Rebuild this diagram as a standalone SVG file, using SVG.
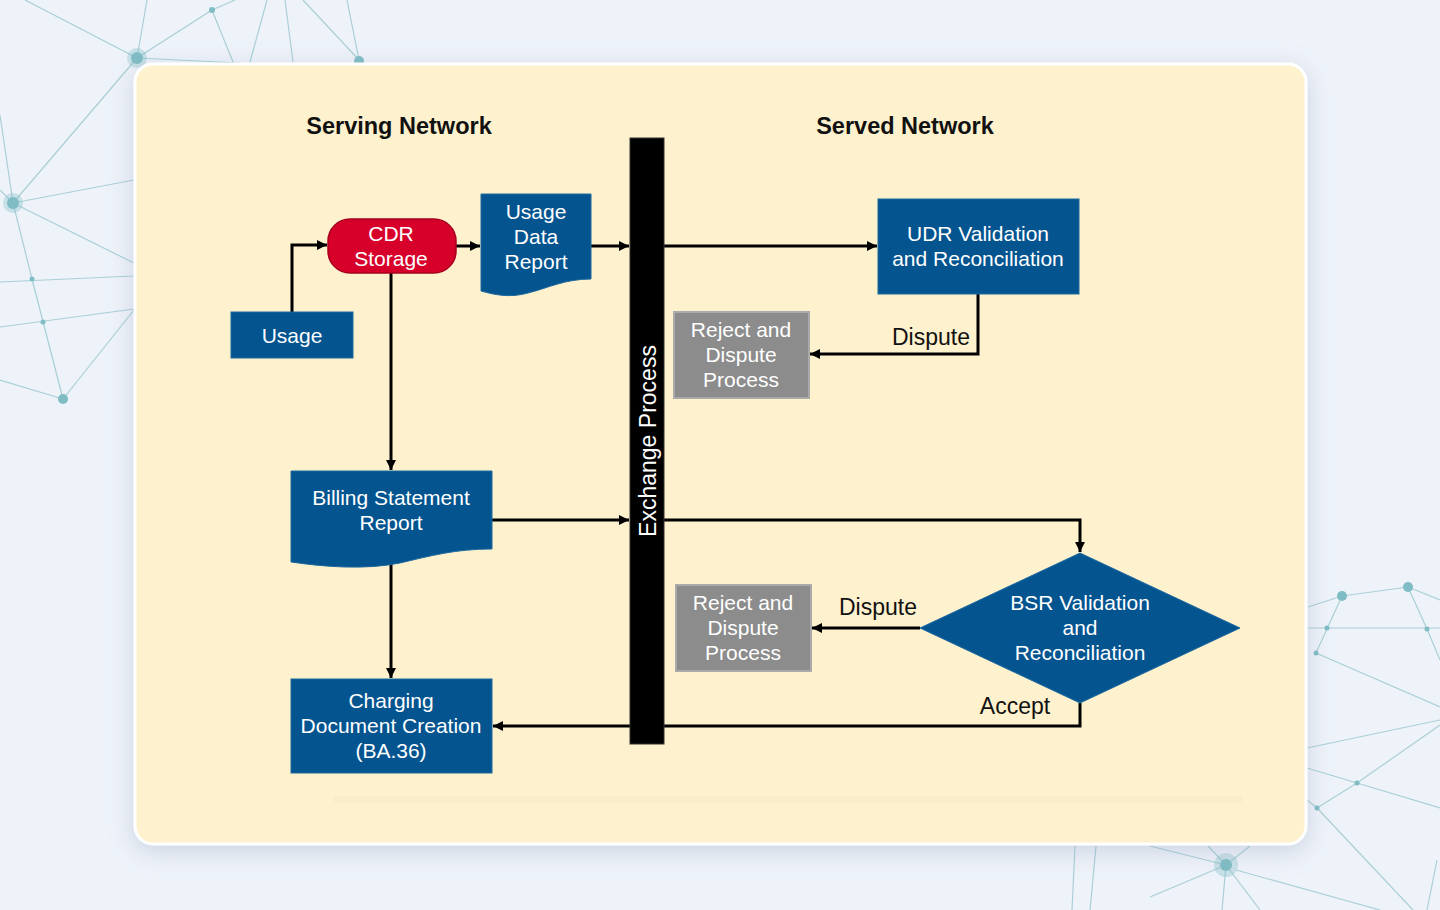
<svg xmlns="http://www.w3.org/2000/svg" width="1440" height="910" viewBox="0 0 1440 910">
<defs>
<marker id="arr" markerUnits="userSpaceOnUse" markerWidth="11" markerHeight="10" refX="10" refY="5" orient="auto"><path d="M0,0 L10,5 L0,10 z" fill="#000"/></marker>
<filter id="sh" x="-10%" y="-10%" width="120%" height="120%"><feDropShadow dx="0" dy="6" stdDeviation="12" flood-color="#8a9ab8" flood-opacity="0.35"/></filter>
<style>
.net line{stroke:#a9d0d6;stroke-width:1.2}
.net circle{fill:#7fbcc4}
.lbl{font-family:"Liberation Sans",Arial,sans-serif;font-size:21px;fill:#fff;text-anchor:middle}
.ttl{font-family:"Liberation Sans",Arial,sans-serif;font-size:23.5px;font-weight:bold;fill:#111;text-anchor:middle}
.cl{font-family:"Liberation Sans",Arial,sans-serif;font-size:23px;fill:#111;text-anchor:middle}
.blue{fill:#03548F;stroke:#1d6aa0;stroke-width:1}
.gray{fill:#8c8c8c;stroke:#aaaaaa;stroke-width:2}
.con{fill:none;stroke:#000;stroke-width:3;marker-end:url(#arr)}
</style>
</defs>
<rect width="1440" height="910" fill="#EEF2F9"/>
<g class="net">
<line x1="25" y1="0" x2="137" y2="58"/><line x1="147" y1="0" x2="137" y2="58"/><line x1="137" y1="58" x2="212" y2="10"/><line x1="137" y1="58" x2="240" y2="63"/>
<line x1="212" y1="10" x2="233" y2="62"/><line x1="212" y1="10" x2="235" y2="0"/><line x1="250" y1="62" x2="267" y2="0"/><line x1="293" y1="62" x2="285" y2="0"/>
<line x1="359" y1="60" x2="303" y2="0"/><line x1="347" y1="0" x2="359" y2="60"/>
<line x1="137" y1="58" x2="13" y2="203"/><line x1="13" y1="203" x2="134" y2="180"/><line x1="13" y1="203" x2="134" y2="263"/><line x1="13" y1="203" x2="0" y2="115"/>
<line x1="13" y1="203" x2="32" y2="279"/><line x1="32" y1="279" x2="63" y2="399"/><line x1="0" y1="282" x2="134" y2="276"/><line x1="0" y1="327" x2="134" y2="309"/>
<line x1="63" y1="399" x2="134" y2="310"/><line x1="0" y1="380" x2="63" y2="399"/><line x1="0" y1="190" x2="13" y2="203"/>
<line x1="1342" y1="596" x2="1408" y2="587"/><line x1="1408" y1="587" x2="1440" y2="600"/><line x1="1408" y1="587" x2="1427" y2="629"/><line x1="1427" y1="629" x2="1440" y2="660"/>
<line x1="1307" y1="628" x2="1440" y2="628"/><line x1="1342" y1="596" x2="1316" y2="653"/><line x1="1316" y1="653" x2="1440" y2="707"/><line x1="1307" y1="748" x2="1440" y2="720"/>
<line x1="1307" y1="768" x2="1357" y2="783"/><line x1="1357" y1="783" x2="1440" y2="808"/><line x1="1357" y1="783" x2="1440" y2="725"/><line x1="1317" y1="808" x2="1357" y2="783"/>
<line x1="1317" y1="808" x2="1413" y2="910"/><line x1="1307" y1="800" x2="1317" y2="808"/><line x1="1342" y1="596" x2="1308" y2="607"/>
<line x1="1226" y1="865" x2="1150" y2="846"/><line x1="1226" y1="865" x2="1208" y2="846"/><line x1="1226" y1="865" x2="1250" y2="846"/><line x1="1226" y1="865" x2="1150" y2="897"/>
<line x1="1226" y1="865" x2="1222" y2="910"/><line x1="1226" y1="865" x2="1260" y2="910"/><line x1="1236" y1="870" x2="1380" y2="910"/><line x1="1437" y1="860" x2="1427" y2="910"/>
<line x1="1075" y1="846" x2="1072" y2="910"/><line x1="1096" y1="846" x2="1090" y2="910"/>
<circle cx="137" cy="58" r="10" opacity="0.35"/><circle cx="137" cy="58" r="6"/><circle cx="13" cy="203" r="10" opacity="0.35"/><circle cx="13" cy="203" r="6"/>
<circle cx="212" cy="10" r="3"/><circle cx="359" cy="61" r="5"/><circle cx="32" cy="279" r="2.5"/><circle cx="43" cy="322" r="2.5"/><circle cx="63" cy="399" r="5"/>
<circle cx="1408" cy="587" r="5"/><circle cx="1342" cy="596" r="5"/><circle cx="1327" cy="628" r="2.5"/><circle cx="1427" cy="629" r="2.5"/><circle cx="1316" cy="653" r="2.5"/>
<circle cx="1357" cy="783" r="2.5"/><circle cx="1317" cy="808" r="2.5"/><circle cx="1226" cy="865" r="12" opacity="0.35"/><circle cx="1226" cy="865" r="6"/>
</g>
<rect x="135" y="64" width="1171" height="780" rx="18" fill="#FEF1CD" stroke="#ffffff" stroke-width="3" filter="url(#sh)"/>
<rect x="334" y="796" width="908" height="7" fill="#f3e6c4" opacity="0.3"/>
<text class="ttl" x="399" y="134">Serving Network</text>
<text class="ttl" x="905" y="134">Served Network</text>
<g id="connectors">
<path class="con" d="M292,312 V245 H327"/>
<path class="con" d="M456,246 H480"/>
<path class="con" d="M591,246 H629"/>
<path class="con" d="M664,246 H877"/>
<path class="con" d="M978,294 V354 H810"/>
<path class="con" d="M391,273 V470"/>
<path class="con" d="M492,520 H629"/>
<path class="con" d="M664,520 H1080 V552"/>
<path class="con" d="M920,628 H812"/>
<path class="con" d="M391,564 V678"/>
<path class="con" d="M1080,703 V726 H493"/>
<text class="cl" x="931" y="345">Dispute</text>
<text class="cl" x="878" y="615">Dispute</text>
<text class="cl" x="1015" y="714">Accept</text>
</g>
<g id="exchange">
<rect x="630" y="138" width="34" height="606" fill="#000" stroke="#333" stroke-width="1"/>
<text class="lbl" transform="translate(656,441) rotate(-90)" style="font-size:23px">Exchange Process</text>
</g>
<g id="usage">
<rect class="blue" x="231" y="312" width="122" height="46"/>
<text class="lbl" x="292" y="343">Usage</text>
</g>
<g id="cdr">
<rect x="328" y="219" width="128" height="54" rx="22" fill="#D6002B" stroke="#a8001f" stroke-width="1.5"/>
<text class="lbl" x="391" y="241">CDR</text>
<text class="lbl" x="391" y="266">Storage</text>
</g>
<g id="udr-report">
<path class="blue" d="M481,194 H591 V279 C565,279 548,288 528,293 C510,298 495,295 481,291 Z"/>
<text class="lbl" x="536" y="219">Usage</text>
<text class="lbl" x="536" y="244">Data</text>
<text class="lbl" x="536" y="269">Report</text>
</g>
<g id="udr-validation">
<rect class="blue" x="878" y="199" width="201" height="95"/>
<text class="lbl" x="978" y="241">UDR Validation</text>
<text class="lbl" x="978" y="266">and Reconciliation</text>
</g>
<g id="reject1">
<rect class="gray" x="674" y="312" width="135" height="86"/>
<text class="lbl" x="741" y="337">Reject and</text>
<text class="lbl" x="741" y="362">Dispute</text>
<text class="lbl" x="741" y="387">Process</text>
</g>
<g id="bsr-report">
<path class="blue" d="M291,471 H492 V549 C455,549 430,556 400,563 C365,570 325,567 291,562 Z"/>
<text class="lbl" x="391" y="505">Billing Statement</text>
<text class="lbl" x="391" y="530">Report</text>
</g>
<g id="bsr-validation">
<path class="blue" d="M1080,553 L1240,628 L1080,703 L920,628 Z"/>
<text class="lbl" x="1080" y="610">BSR Validation</text>
<text class="lbl" x="1080" y="635">and</text>
<text class="lbl" x="1080" y="660">Reconciliation</text>
</g>
<g id="reject2">
<rect class="gray" x="676" y="585" width="135" height="86"/>
<text class="lbl" x="743" y="610">Reject and</text>
<text class="lbl" x="743" y="635">Dispute</text>
<text class="lbl" x="743" y="660">Process</text>
</g>
<g id="charging">
<rect class="blue" x="291" y="679" width="201" height="94"/>
<text class="lbl" x="391" y="708">Charging</text>
<text class="lbl" x="391" y="733">Document Creation</text>
<text class="lbl" x="391" y="758">(BA.36)</text>
</g>
</svg>
